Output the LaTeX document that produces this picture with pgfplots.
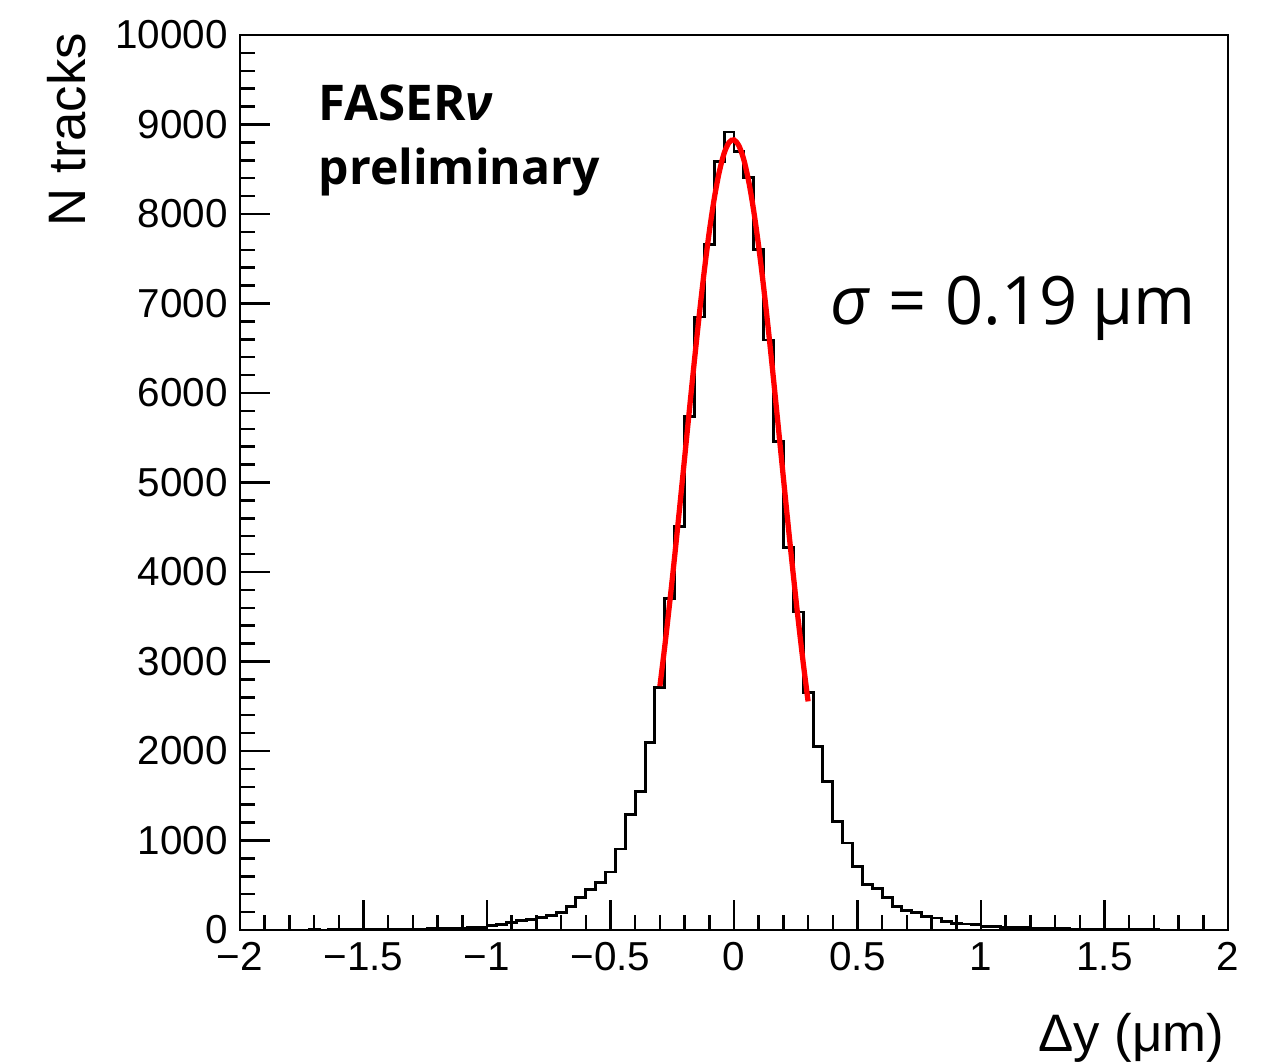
\documentclass[border=0pt]{standalone}
\usepackage{fontspec}
\setmainfont{Liberation Sans}
\newfontfamily\osans{Open Sans}
\usepackage{pgfplots}
\pgfplotsset{compat=1.18}
\usetikzlibrary{calc}

\begin{document}
\begin{tikzpicture}
\begin{axis}[
    name=ax,
    width=9.88cm, height=8.95cm, scale only axis,
    xmin=-2, xmax=2, ymin=0, ymax=10000,
    xtick={-2,-1.5,-1,-0.5,0,0.5,1,1.5,2},
    xticklabels={−2,−1.5,−1,−0.5,0,0.5,1,1.5,2},
    ytick={0,1000,...,10000},
    minor x tick num=4, minor y tick num=4,
    tick pos=left, tick align=inside,
    major tick length=0.3cm, minor tick length=0.15cm,
    axis line style={line width=0.8pt},
    tick style={black, line width=0.7pt},
    ticklabel style={font=\fontsize{11.5}{13}\selectfont},
    /pgf/number format/assume math mode=true,
    /pgf/number format/1000 sep={},
    scaled y ticks=false,
    ylabel={N tracks},
    ylabel style={font=\fontsize{15}{17}\selectfont, at={(rel axis cs:-0.155,1.003)}, anchor=south east, inner sep=0pt},
    xlabel={Δy (μm)},
    xlabel style={font=\fontsize{15}{17}\selectfont, at={(rel axis cs:0.997,-0.092)}, anchor=north east, inner sep=0pt},
]
% histogram, bins of 0.04 (left edge, entries)
\addplot[const plot, black, line width=0.85pt] coordinates {
(-2.00,0) (-1.96,0) (-1.92,0) (-1.88,0) (-1.84,0) (-1.80,0) (-1.76,0) (-1.72,1)
(-1.68,0) (-1.64,1) (-1.60,1) (-1.56,2) (-1.52,2) (-1.48,3) (-1.44,3) (-1.40,5)
(-1.36,6) (-1.32,8) (-1.28,10) (-1.24,12) (-1.20,14) (-1.16,17) (-1.12,20) (-1.08,26)
(-1.04,33) (-1.00,48) (-0.96,58) (-0.92,85) (-0.88,105) (-0.84,122) (-0.80,142) (-0.76,166)
(-0.72,200) (-0.68,257) (-0.64,358) (-0.60,447) (-0.56,536) (-0.52,648) (-0.48,905) (-0.44,1285)
(-0.40,1542) (-0.36,2100) (-0.32,2710) (-0.28,3709) (-0.24,4503) (-0.20,5732) (-0.16,6849) (-0.12,7654)
(-0.08,8581) (-0.04,8916) (0.00,8693) (0.04,8413) (0.08,7598) (0.12,6592) (0.16,5453) (0.20,4279)
(0.24,3553) (0.28,2659) (0.32,2045) (0.36,1654) (0.40,1207) (0.44,972) (0.48,704) (0.52,503)
(0.56,469) (0.60,358) (0.64,257) (0.68,223) (0.72,190) (0.76,156) (0.80,134) (0.84,100)
(0.88,78) (0.92,67) (0.96,56) (1.00,40) (1.04,35) (1.08,30) (1.12,28) (1.16,25)
(1.20,20) (1.24,18) (1.28,15) (1.32,12) (1.36,10) (1.40,8) (1.44,6) (1.48,5)
(1.52,3) (1.56,2) (1.60,2) (1.64,1) (1.68,1) (1.72,0) (1.76,0) (1.80,0)
(1.84,0) (1.88,0) (1.92,0) (1.96,0) (2.00,0)
};
% gaussian fit
\addplot[red, line width=1.5pt, smooth] coordinates {
(-0.30,2724) (-0.28,3176) (-0.26,3664) (-0.24,4181) (-0.22,4721) (-0.20,5273)
(-0.18,5827) (-0.16,6369) (-0.14,6888) (-0.12,7371) (-0.10,7803) (-0.08,8171)
(-0.06,8466) (-0.04,8678) (-0.02,8800) (0.00,8828) (0.02,8762) (0.04,8604)
(0.06,8358) (0.08,8032) (0.10,7637) (0.12,7183) (0.14,6685) (0.16,6154)
(0.18,5605) (0.20,5051) (0.22,4503) (0.24,3971) (0.26,3465) (0.28,2991) (0.30,2554)
};
\node[font=\osans\bfseries\fontsize{14}{16}\selectfont, anchor=base west, inner sep=0pt] at (axis cs:-1.684,9050) {FASER{\itshape ν}};
\node[font=\osans\bfseries\fontsize{13.7}{16}\selectfont, anchor=base west, inner sep=0pt] at (axis cs:-1.684,8324) {preliminary};
\node[font=\osans\fontsize{19}{21}\selectfont, anchor=base west, inner sep=0pt] at (axis cs:0.389,6760) {{\itshape σ}\hspace{0.28em}=\hspace{0.28em}0.19\hspace{0.22em}μm};
\end{axis}
\path ($(ax.south west)+(-2.40cm,-1.33cm)$) rectangle ($(ax.north east)+(0.48cm,0.35cm)$);
\end{tikzpicture}
\end{document}
